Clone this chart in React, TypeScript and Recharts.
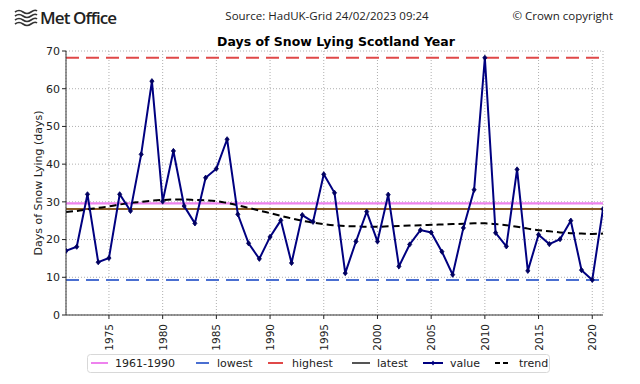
import React from 'react';
import { LineChart, Line, XAxis, YAxis, CartesianGrid, ReferenceLine } from 'recharts';

const years = [
  1971, 1972, 1973, 1974, 1975, 1976, 1977, 1978, 1979, 1980,
  1981, 1982, 1983, 1984, 1985, 1986, 1987, 1988, 1989, 1990,
  1991, 1992, 1993, 1994, 1995, 1996, 1997, 1998, 1999, 2000,
  2001, 2002, 2003, 2004, 2005, 2006, 2007, 2008, 2009, 2010,
  2011, 2012, 2013, 2014, 2015, 2016, 2017, 2018, 2019, 2020, 2021,
];

const values = [
  17.0, 18.1, 32.0, 14.0, 15.1, 32.0, 27.6, 42.6, 62.0, 30.1,
  43.5, 28.9, 24.3, 36.4, 38.8, 46.6, 26.7, 19.0, 14.9, 20.7,
  25.1, 13.8, 26.5, 24.7, 37.3, 32.4, 11.1, 19.5, 27.4, 19.5,
  31.9, 12.9, 18.7, 22.5, 21.9, 16.8, 10.7, 23.1, 33.2, 68.2,
  21.8, 18.2, 38.6, 11.7, 21.3, 18.8, 20.1, 25.0, 11.9, 9.3, 28.1,
];

const trend = [
  27.3, 27.6, 28.0, 28.4, 28.8, 29.3, 29.7, 30.0, 30.3, 30.5,
  30.6, 30.6, 30.5, 30.4, 30.2, 29.7, 29.1, 28.4, 27.7, 27.0,
  26.3, 25.6, 25.0, 24.5, 24.1, 23.8, 23.6, 23.5, 23.4, 23.4,
  23.5, 23.6, 23.7, 23.8, 23.9, 24.0, 24.1, 24.2, 24.3, 24.3,
  24.1, 23.8, 23.4, 22.9, 22.5, 22.2, 21.9, 21.7, 21.6, 21.5, 21.6,
];

const xTicks = [1975, 1980, 1985, 1990, 1995, 2000, 2005, 2010, 2015, 2020];
const yTicks = [0, 10, 20, 30, 40, 50, 60, 70];

const avg6190 = 29.6;
const lowest = 9.3;
const highest = 68.2;
const latest = 28.1;

const data = years.map((y, i) => ({ year: y, value: values[i], trend: trend[i] }));

const FONT = '"DejaVu Sans", sans-serif';

const XTick = (props: any) => {
  const { x, y, payload } = props;
  return (
    <text
      transform={`translate(${x},${y + 3}) rotate(-90)`}
      textAnchor="end"
      dominantBaseline="central"
      fontSize={10.5}
      fontFamily={FONT}
      fill="#222"
    >
      {payload.value}
    </text>
  );
};

const Diamond = (props: any) => {
  const { cx, cy } = props;
  if (cx == null || cy == null) return null;
  const s = 2.6;
  return (
    <path
      d={`M${cx},${cy - s} L${cx + s * 0.8},${cy} L${cx},${cy + s} L${cx - s * 0.8},${cy} Z`}
      fill="#000060"
      stroke="#000060"
      strokeWidth={0.8}
    />
  );
};

const legendItems = [
  { label: '1961-1990', color: 'violet', dash: '', x1: 91, x2: 108, tx: 115 },
  { label: 'lowest', color: '#4a6fd1', dash: '', x1: 196, x2: 209, tx: 217 },
  { label: 'highest', color: '#e04848', dash: '', x1: 268, x2: 283, tx: 292 },
  { label: 'latest', color: '#555555', dash: '', x1: 352, x2: 370, tx: 377 },
  { label: 'value', color: '#000080', dash: '', x1: 423, x2: 443, tx: 450, marker: true },
  { label: 'trend', color: '#000000', dash: '5 3', x1: 495, x2: 511, tx: 519 },
];

export default function App() {
  return (
    <div style={{ position: 'absolute', left: 0, top: 0, width: 640, height: 384, background: '#fff', fontFamily: FONT }}>
      {/* header */}
      <svg width={640} height={60} style={{ position: 'absolute', left: 0, top: 0 }}>
        <g stroke="#333" strokeWidth={1.6} fill="none">
          <path d="M15,12 q4,-3 8,0 t8,0 t6,-1" />
          <path d="M15,16 q4,-3 8,0 t8,0 t6,-1" />
          <path d="M15,20 q4,-3 8,0 t8,0 t6,-1" />
          <path d="M15,24 q4,-3 8,0 t8,0 t6,-1" />
        </g>
        <text x={40} y={24} fontFamily='"Open Sans", sans-serif' fontWeight={600} fontSize={17} letterSpacing={-0.9} fill="#222">
          Met Office
        </text>
        <text x={327} y={20} textAnchor="middle" fontFamily='"Open Sans", sans-serif' fontSize={11.5} fill="#222">
          Source: HadUK-Grid 24/02/2023 09:24
        </text>
        <text x={613} y={20} textAnchor="end" fontFamily='"Open Sans", sans-serif' fontSize={11.5} fill="#222">
          © Crown copyright
        </text>
        <text x={336} y={46} textAnchor="middle" fontFamily={FONT} fontWeight="bold" fontSize={12.5} fill="#000">
          Days of Snow Lying Scotland Year
        </text>
      </svg>
      <svg width={30} height={384} style={{ position: 'absolute', left: 24, top: 0 }}>
        <text
          transform="translate(14,183) rotate(-90)"
          textAnchor="middle"
          dominantBaseline="central"
          fontFamily={FONT}
          fontSize={11}
          fill="#222"
        >
          Days of Snow Lying (days)
        </text>
      </svg>
      <div style={{ position: 'absolute', left: 0, top: 0 }}>
        <LineChart width={640} height={384} data={data} margin={{ top: 51, right: 37, left: 0, bottom: 31 }}>
          <CartesianGrid xAxisId="b" yAxisId="l" stroke="#9a9a9a" strokeDasharray="1 2" strokeWidth={0.8} />
          <XAxis
            xAxisId="b"
            dataKey="year"
            type="number"
            domain={[1971, 2021]}
            ticks={xTicks}
            allowDataOverflow
            height={38}
            tick={<XTick />}
            tickSize={4}
            tickLine={{ stroke: '#222' }}
            axisLine={{ stroke: '#333', strokeWidth: 1 }}
            interval={0}
          />
          <XAxis xAxisId="t" orientation="top" dataKey="year" type="number" domain={[1971, 2021]} ticks={xTicks} height={0} tick={false} tickLine={false} axisLine={{ stroke: '#333' }} />
          <YAxis
            yAxisId="l"
            type="number"
            domain={[0, 70]}
            ticks={yTicks}
            width={66}
            tickSize={4}
            tick={{ fontSize: 11, fontFamily: FONT, fill: '#222' }}
            tickLine={{ stroke: '#222' }}
            axisLine={{ stroke: '#333' }}
            interval={0}
          />
          <YAxis yAxisId="r" orientation="right" type="number" domain={[0, 70]} ticks={yTicks} width={0} tick={false} tickLine={false} axisLine={{ stroke: '#333' }} />
          <ReferenceLine xAxisId="b" yAxisId="l" y={highest} stroke="#e04848" strokeWidth={2} strokeDasharray="13 7" />
          <ReferenceLine xAxisId="b" yAxisId="l" y={lowest} stroke="#4a6fd1" strokeWidth={2} strokeDasharray="13 7" />
          <ReferenceLine xAxisId="b" yAxisId="l" y={avg6190} stroke="violet" strokeWidth={2.2} />
          <ReferenceLine xAxisId="b" yAxisId="l" y={latest} stroke="#8a5a22" strokeWidth={1.8} />
          <Line
            xAxisId="b"
            yAxisId="l"
            dataKey="trend"
            stroke="#000"
            strokeWidth={2}
            strokeDasharray="7 4"
            dot={false}
            type="monotone"
            isAnimationActive={false}
          />
          <Line
            xAxisId="b"
            yAxisId="l"
            dataKey="value"
            stroke="#000080"
            strokeWidth={2}
            dot={<Diamond />}
            type="linear"
            isAnimationActive={false}
          />
        </LineChart>
      </div>
      {/* legend */}
      <svg width={640} height={30} style={{ position: 'absolute', left: 0, top: 350 }}>
        <rect x={87.5} y={4.5} width={462} height={18} rx={3} fill="#fff" stroke="#d8d8d8" />
        {legendItems.map((it, i) => (
          <g key={i}>
            <line x1={it.x1} y1={13} x2={it.x2} y2={13} stroke={it.color} strokeWidth={2} strokeDasharray={it.dash || undefined} />
            {it.marker ? (
              <path d={`M${(it.x1 + it.x2) / 2},10.4 L${(it.x1 + it.x2) / 2 + 2},13 L${(it.x1 + it.x2) / 2},15.6 L${(it.x1 + it.x2) / 2 - 2},13 Z`} fill={it.color} />
            ) : null}
            <text x={it.tx} y={13} dominantBaseline="central" fontSize={11} fontFamily={FONT} fill="#222">
              {it.label}
            </text>
          </g>
        ))}
      </svg>
    </div>
  );
}
